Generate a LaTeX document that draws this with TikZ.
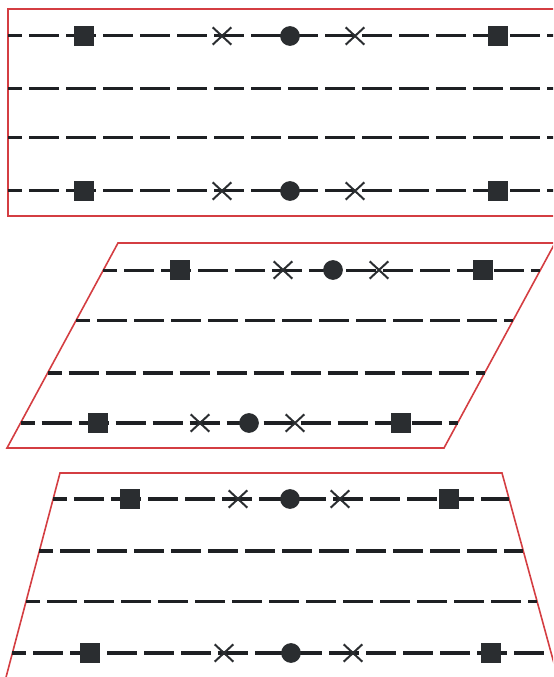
\documentclass[tikz,border=0pt]{standalone}
\usepackage{xcolor}
\usepackage{tikz}
\usetikzlibrary{shapes.misc,calc}

\definecolor{framered}{RGB}{212,62,66}
\definecolor{ink}{RGB}{30,32,35}
\definecolor{markgray}{RGB}{42,45,48}

\begin{document}
\begin{tikzpicture}[
    x=0.75pt, y=-0.75pt,
    frame/.style={draw=framered, line width=1.2pt},
    track/.style={draw=ink, line width=2.3pt, dash pattern=on 22.5pt off 5.25pt, dash phase=12pt},
    sq/.style={rectangle, fill=markgray, minimum size=14.8pt, inner sep=0pt},
    dot/.style={circle, fill=markgray, minimum size=14.8pt, inner sep=0pt},
    xmark/.style={cross out, draw=markgray, line width=1.5pt, minimum width=12.5pt, minimum height=11.5pt, inner sep=0pt}
]
\clip (0,0) rectangle (553,677);

% Rectangle
\coordinate (p1tl) at (8,9);
\coordinate (p1tr) at (600,9);
\coordinate (p1br) at (600,216);
\coordinate (p1bl) at (8,216);
\draw[frame, line width=2pt] (p1tl) -- (p1tr) -- (p1br) -- (p1bl) -- cycle;

\draw[track] ($(p1tl)!0.13!(p1bl)$) -- ($(p1tr)!0.13!(p1br)$);
\draw[track] ($(p1tl)!0.382!(p1bl)$) -- ($(p1tr)!0.382!(p1br)$);
\draw[track] ($(p1tl)!0.623!(p1bl)$) -- ($(p1tr)!0.623!(p1br)$);
\draw[track] ($(p1tl)!0.879!(p1bl)$) -- ($(p1tr)!0.879!(p1br)$);

\node[sq] (p1sqa) at (84,36) {};
\node[xmark] (p1xa) at (222,36) {};
\node[dot] (p1dota) at (290,36) {};
\node[xmark] (p1xb) at (355,36) {};
\node[sq] (p1sqb) at (498,36) {};

\node[sq] (p1sqc) at (84,191) {};
\node[xmark] (p1xc) at (222,191) {};
\node[dot] (p1dotb) at (290,191) {};
\node[xmark] (p1xd) at (355,191) {};
\node[sq] (p1sqd) at (498,191) {};

% Parallelogram
\coordinate (p2tl) at (118,243);
\coordinate (p2tr) at (555,243);
\coordinate (p2br) at (444,448);
\coordinate (p2bl) at (7,448);
\draw[frame] (p2tl) -- (p2tr) -- (p2br) -- (p2bl) -- cycle;

\draw[track] ($(p2tl)!0.132!(p2bl)$) -- ($(p2tr)!0.132!(p2br)$);
\draw[track] ($(p2tl)!0.376!(p2bl)$) -- ($(p2tr)!0.376!(p2br)$);
\draw[track] ($(p2tl)!0.634!(p2bl)$) -- ($(p2tr)!0.634!(p2br)$);
\draw[track] ($(p2tl)!0.878!(p2bl)$) -- ($(p2tr)!0.878!(p2br)$);

\node[sq] (p2sqa) at (180,270) {};
\node[xmark] (p2xa) at (283,270) {};
\node[dot] (p2dota) at (333,270) {};
\node[xmark] (p2xb) at (379,270) {};
\node[sq] (p2sqb) at (483,270) {};

\node[sq] (p2sqc) at (98,423) {};
\node[xmark] (p2xc) at (200,423) {};
\node[dot] (p2dotb) at (249,423) {};
\node[xmark] (p2xd) at (295,423) {};
\node[sq] (p2sqd) at (401,423) {};

% Trapezoid
\coordinate (p3tl) at (60,473);
\coordinate (p3tr) at (502,473);
\coordinate (p3br) at (564,700);
\coordinate (p3bl) at (0,700);
\draw[frame] (p3tl) -- (p3tr) -- (p3br) -- (p3bl) -- cycle;

\draw[track] ($(p3tl)!0.1145!(p3bl)$) -- ($(p3tr)!0.1145!(p3br)$);
\draw[track] ($(p3tl)!0.3436!(p3bl)$) -- ($(p3tr)!0.3436!(p3br)$);
\draw[track] ($(p3tl)!0.564!(p3bl)$) -- ($(p3tr)!0.564!(p3br)$);
\draw[track] ($(p3tl)!0.793!(p3bl)$) -- ($(p3tr)!0.793!(p3br)$);

\node[sq] (p3sqa) at (130,499) {};
\node[xmark] (p3xa) at (238,499) {};
\node[dot] (p3dota) at (290,499) {};
\node[xmark] (p3xb) at (340,499) {};
\node[sq] (p3sqb) at (449,499) {};

\node[sq] (p3sqc) at (90,653) {};
\node[xmark] (p3xc) at (224,653) {};
\node[dot] (p3dotb) at (291,653) {};
\node[xmark] (p3xd) at (353,653) {};
\node[sq] (p3sqd) at (491,653) {};

\end{tikzpicture}
\end{document}
